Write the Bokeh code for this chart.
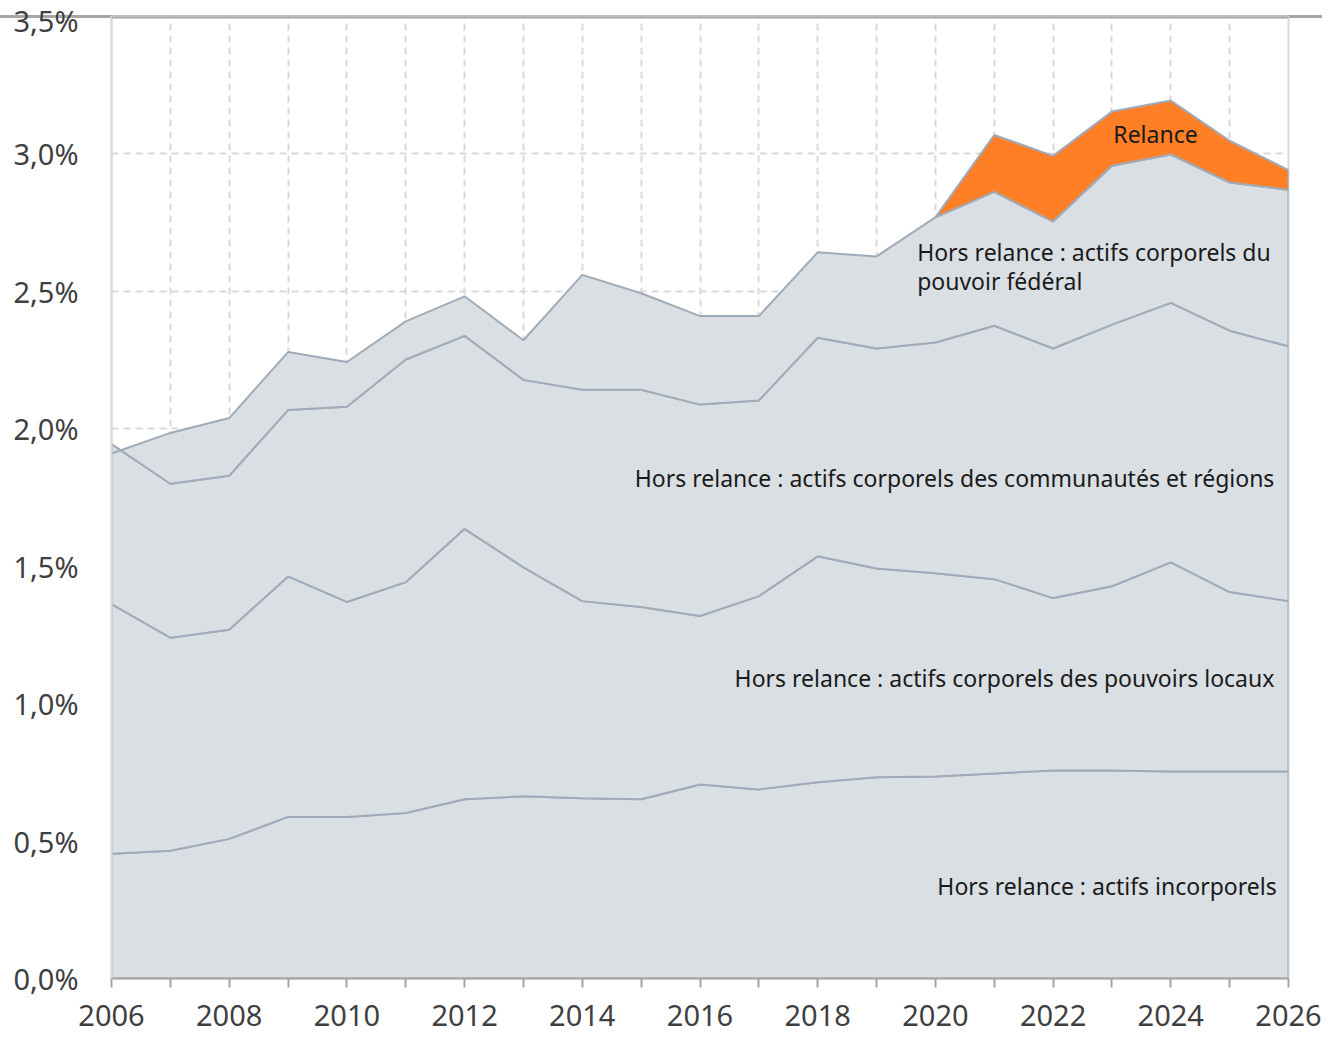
from bokeh.plotting import figure
from bokeh.models import (ColumnDataSource, FixedTicker, Range1d, BoxAnnotation, Label)
from bokeh.embed import file_html
from bokeh.resources import INLINE

# ---- data (% of GDP) ----
years = list(range(2006, 2027))
incorporels = [0.454, 0.465, 0.508, 0.588, 0.588, 0.602, 0.652, 0.663, 0.656, 0.652, 0.706,
               0.688, 0.714, 0.732, 0.735, 0.746, 0.757, 0.757, 0.753, 0.753, 0.753]
locaux = [0.908, 0.775, 0.761, 0.875, 0.782, 0.840, 0.984, 0.833, 0.717, 0.700, 0.613,
          0.703, 0.822, 0.760, 0.739, 0.707, 0.627, 0.670, 0.761, 0.653, 0.620]
communautes = [0.582, 0.560, 0.560, 0.605, 0.710, 0.810, 0.702, 0.682, 0.769, 0.790, 0.769,
               0.712, 0.795, 0.800, 0.840, 0.922, 0.908, 0.952, 0.944, 0.951, 0.927]
federal = [-0.034, 0.185, 0.210, 0.211, 0.163, 0.139, 0.144, 0.144, 0.418, 0.351, 0.322,
           0.307, 0.311, 0.335, 0.455, 0.487, 0.462, 0.578, 0.540, 0.539, 0.569]
relance_years = [2020, 2021, 2022, 2023, 2024, 2025, 2026]
relance = [0.0, 0.207, 0.239, 0.197, 0.196, 0.152, 0.072]

y_ticks = [0.0, 0.5, 1.0, 1.5, 2.0, 2.5, 3.0, 3.5]
y_tick_labels = ["0,0%", "0,5%", "1,0%", "1,5%", "2,0%", "2,5%", "3,0%", "3,5%"]
x_major = list(range(2006, 2027, 2))
x_minor = list(range(2007, 2026, 2))

labels_text = ["Hors relance : actifs incorporels",
               "Hors relance : actifs corporels des pouvoirs locaux",
               "Hors relance : actifs corporels des communautés et régions"]

FONT = "Noto Sans"
FILL = "#dadfe4"
EDGE = "#a0abba"
ORANGE = "#fe7f26"
RULE = "#a6a6a6"

# ---- cumulative stacking ----
layers = [incorporels, locaux, communautes, federal]
bottoms, tops = [], []
cum = [0.0] * len(years)
for lay in layers:
    bottoms.append(list(cum))
    cum = [c + v for c, v in zip(cum, lay)]
    tops.append(list(cum))

xs, ys, fills = [], [], []
for b, t in zip(bottoms, tops):
    xs.append(years + years[::-1])
    ys.append(t + b[::-1])
    fills.append(FILL)

# relance layer on top of total hors relance
i0 = years.index(relance_years[0])
rel_bottom = cum[i0:]
rel_top = [b + r for b, r in zip(rel_bottom, relance)]
xs.append(relance_years + relance_years[::-1])
ys.append(rel_top + rel_bottom[::-1])
fills.append(ORANGE)

src = ColumnDataSource(dict(xs=xs, ys=ys, fill=fills))

TOP = 16
p = figure(width=1322, height=1033, output_backend="svg", toolbar_location=None,
           x_range=Range1d(2006, 2026), y_range=Range1d(0, 3.5),
           min_border_left=111, min_border_right=34, min_border_top=TOP, min_border_bottom=55)
p.background_fill_color = "white"
p.border_fill_color = None
# full-width rule at the top (shows through the transparent border area)
p.styles = {"background-color": "white",
            "background-image": f"linear-gradient(to bottom, transparent {TOP-1}px, {RULE} {TOP-1}px, "
                                f"{RULE} {TOP+2}px, transparent {TOP+2}px)"}
p.outline_line_color = "#d9d9d9"
p.outline_line_width = 2

p.patches("xs", "ys", source=src, fill_color="fill", line_color=EDGE, line_width=2)

# axes
p.xaxis.ticker = FixedTicker(ticks=x_major, minor_ticks=x_minor)
p.yaxis.ticker = FixedTicker(ticks=y_ticks)
p.yaxis.major_label_overrides = {t: l for t, l in zip(y_ticks, y_tick_labels)}
for ax in (p.xaxis[0], p.yaxis[0]):
    ax.major_label_text_font = FONT
    ax.major_label_text_font_size = "29px"
    ax.major_label_text_color = "#404040"
p.yaxis.axis_line_color = "#d9d9d9"
p.yaxis.axis_line_width = 2
p.yaxis.major_tick_line_color = None
p.yaxis.minor_tick_line_color = None
p.yaxis.major_label_standoff = 27
p.xaxis.axis_line_color = "#a6a6a6"
p.xaxis.axis_line_width = 2
p.xaxis.major_tick_line_color = "#a6a6a6"
p.xaxis.minor_tick_line_color = "#a6a6a6"
p.xaxis.major_tick_line_width = 2
p.xaxis.minor_tick_line_width = 2
p.xaxis.major_tick_out = 9
p.xaxis.minor_tick_out = 9
p.xaxis.major_tick_in = 0
p.xaxis.minor_tick_in = 0
p.xaxis.major_label_standoff = 17

# grids
p.xgrid.grid_line_color = "#d9d9d9"
p.xgrid.grid_line_dash = "7 5"
p.xgrid.grid_line_width = 2
p.xgrid.minor_grid_line_color = "#d9d9d9"
p.xgrid.minor_grid_line_dash = "7 5"
p.xgrid.minor_grid_line_width = 2
p.ygrid.grid_line_color = "#d9d9d9"
p.ygrid.grid_line_dash = "7 5"
p.ygrid.grid_line_width = 2

# rule inside the frame (same rows as the CSS rule)
p.add_layout(BoxAnnotation(top=0, bottom=TOP + 2, top_units="canvas", bottom_units="canvas",
                           fill_color=RULE, fill_alpha=1, line_color=None, level="overlay"))

# annotations
def add_label(x, y, text, align):
    p.add_layout(Label(x=x, y=y, text=text, text_align=align, text_baseline="middle",
                       text_font=FONT, text_font_size="23px", text_color="#1a1a1a"))

add_label(2023.74, 3.071, "Relance", "center")
add_label(2019.69, 2.642, "Hors relance : actifs corporels du", "left")
add_label(2019.69, 2.538, "pouvoir fédéral", "left")
add_label(2025.76, 1.820, labels_text[2], "right")
add_label(2025.76, 1.092, labels_text[1], "right")
add_label(2025.80, 0.335, labels_text[0], "right")

open("out.html", "w").write(file_html(p, INLINE))
